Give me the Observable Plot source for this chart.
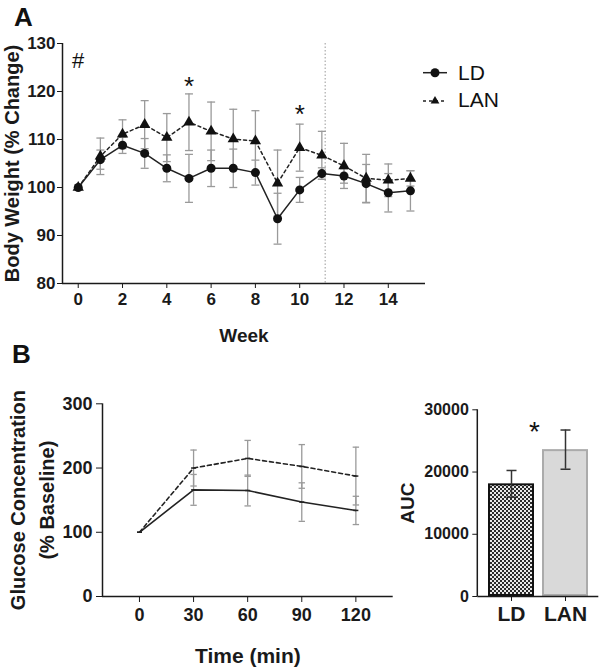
<!DOCTYPE html>
<html><head><meta charset="utf-8">
<script src="https://cdn.jsdelivr.net/npm/d3@7"></script>
<script src="https://cdn.jsdelivr.net/npm/@observablehq/plot@0.6"></script>
<style>
body{margin:0;background:#fff;}
#wrap{position:relative;width:600px;height:670px;font-family:"Liberation Sans",Arial,sans-serif;overflow:hidden;}
.panel{position:absolute;}
.letter{position:absolute;font-weight:bold;font-size:26px;color:#111;line-height:normal;}
</style></head><body>
<div id="wrap">
  <div class="panel" id="pA" style="left:0;top:0;width:600px;height:350px"></div>
  <div class="panel" id="pB1" style="left:0;top:350px;width:400px;height:320px"></div>
  <div class="panel" id="pB2" style="left:400px;top:350px;width:200px;height:320px"></div>
  <div class="letter" style="left:14px;top:2px">A</div>
  <div class="letter" style="left:12px;top:339px">B</div>
  <svg class="panel" style="left:415px;top:55px" width="120" height="60">
    <line x1="8" x2="32" y1="17.7" y2="17.7" stroke="#222" stroke-width="1.5"/>
    <circle cx="20" cy="17.7" r="4.5" fill="#111"/>
    <text x="43" y="25" font-size="21" fill="#111" font-family="Liberation Sans, Arial, sans-serif">LD</text>
    <line x1="8" x2="32" y1="46" y2="46" stroke="#222" stroke-width="1.5" stroke-dasharray="3,3"/>
    <polygon points="20,41 15.6,48.5 24.4,48.5" fill="#111"/>
    <text x="43" y="52" font-size="21" fill="#111" font-family="Liberation Sans, Arial, sans-serif">LAN</text>
  </svg>
</div>
<script>
// ---- Panel A: body weight ----
const weeks = [0,1,2,3,4,5,6,7,8,9,10,11,12,13,14,15];
const ldBW     = [100,105.8,108.8,107.1,104.0,101.9,104.0,104.0,103.1,93.5,99.5,102.9,102.4,100.8,98.9,99.3];
const ldBWErr  = [0,2.0,1.7,3.1,2.8,5.0,3.8,4.0,2.6,5.3,2.6,1.2,1.5,4.0,4.0,4.2];
const lanBW    = [100,106.5,111.1,113.1,110.4,113.6,111.7,110.1,109.7,100.9,108.3,106.7,104.5,101.9,101.5,101.9];
const lanBWErr = [0,3.8,3.0,5.0,5.0,5.9,6.1,6.2,6.3,6.9,4.9,5.0,4.7,5.0,3.4,1.6];
const weekTicks = [0,2,4,6,8,10,12,14];
const bwTicks = [80,90,100,110,120,130];
const dividerWeek = 11.15;
const bwNotes = [{week:0, y:126.3, t:"#", size:22}, {week:5, y:121.1, t:"*", size:26}, {week:10, y:115.1, t:"*", size:26}];

// ---- Panel B left: glucose tolerance ----
const times = [0,30,60,90,120];
const ldGlu     = [100,166,165,147,134];
const ldGluErr  = [0,24,24,30,22];
const lanGlu    = [100,200,215,202.5,187.5];
const lanGluErr = [0,28,28,34,45];
const timeTicks = [0,30,60,90,120];
const gluTicks = [0,100,200,300];

// ---- Panel B right: AUC ----
const groups = ["LD","LAN"];
const auc = [18100,23600];
const aucErr = [2150,3150];
const aucTicks = [0,10000,20000,30000];
const aucStar = {group:"LD", y:26350, t:"*"};

const FONT = "Liberation Sans, Arial, sans-serif";
const INK = "#1a1a1a";
const capSym = {draw(ctx, size){ const r = Math.sqrt(size/Math.PI); ctx.moveTo(-r,0); ctx.lineTo(r,0); }};
const baseStyle = (fs) => ({fontFamily: FONT, fontSize: fs+"px", fontWeight: "bold", color: INK, background: "transparent", overflow: "visible"});
const yLabel = (txt, dx, fs) => Plot.text([txt], {frameAnchor:"left", text:d=>d, rotate:-90, dx, textAnchor:"middle", lineAnchor:"middle", fontSize:fs, fontWeight:"bold", fill:INK});
const xLabel = (txt, dy, fs) => Plot.text([txt], {frameAnchor:"bottom", text:d=>d, dy, textAnchor:"middle", lineAnchor:"middle", fontSize:fs, fontWeight:"bold", fill:INK});

const bwRows = weeks.flatMap((w,i)=>[
  {week:w, g:"LD", v:ldBW[i], e:ldBWErr[i]},
  {week:w, g:"LAN", v:lanBW[i], e:lanBWErr[i]}
]);
const bwErrRows = bwRows.filter(d=>d.e>0);

const xMinA = -0.71;
const A = Plot.plot({
  width: 600, height: 350,
  marginLeft: 62, marginRight: 175, marginTop: 43, marginBottom: 67,
  style: baseStyle(17),
  x: {domain: [xMinA, 15.68], ticks: weekTicks, tickSize: 5, tickPadding: 4, label: null},
  y: {domain: [80,130], ticks: bwTicks, tickSize: 5, tickPadding: 2, label: null},
  marks: [
    Plot.ruleX([dividerWeek], {stroke:"#999", strokeDasharray:"1.5,2", strokeWidth:1}),
    Plot.ruleX(bwErrRows, {x:"week", y1:d=>d.v-d.e, y2:d=>d.v+d.e, stroke:"#9a9a9a", strokeWidth:1.3}),
    Plot.dot(bwErrRows, {x:"week", y:d=>d.v+d.e, symbol:capSym, r:4, stroke:"#9a9a9a", fill:"none", strokeWidth:1.3}),
    Plot.dot(bwErrRows, {x:"week", y:d=>d.v-d.e, symbol:capSym, r:4, stroke:"#9a9a9a", fill:"none", strokeWidth:1.3}),
    Plot.line(bwRows.filter(d=>d.g==="LD"), {x:"week", y:"v", stroke:"#222", strokeWidth:1.5}),
    Plot.line(bwRows.filter(d=>d.g==="LAN"), {x:"week", y:"v", stroke:"#222", strokeWidth:1.5, strokeDasharray:"3,3"}),
    Plot.dot(bwRows.filter(d=>d.g==="LD"), {x:"week", y:"v", r:4.5, fill:"#111", symbol:"circle"}),
    Plot.dot(bwRows.filter(d=>d.g==="LAN"), {x:"week", y:"v", r:4.2, fill:"#111", symbol:"triangle"}),
    Plot.ruleY([80], {stroke:INK, strokeWidth:1.5}),
    Plot.ruleX([xMinA], {stroke:INK, strokeWidth:1.5}),
    Plot.text(bwNotes, {x:"week", y:"y", text:"t", fontSize:d=>d.size, fontWeight:"normal", fill:"#111"}),
    yLabel("Body Weight (% Change)", -50, 20),
    xLabel("Week", 52, 19)
  ]
});
document.getElementById("pA").appendChild(A);

const gluRows = times.flatMap((t,i)=>[
  {t, g:"LD", v:ldGlu[i], e:ldGluErr[i]},
  {t, g:"LAN", v:lanGlu[i], e:lanGluErr[i]}
]);
const gluErrRows = gluRows.filter(d=>d.e>0);
const xMinB = -20.5;
const B1 = Plot.plot({
  width: 400, height: 320,
  marginLeft: 102, marginRight: 7.3, marginTop: 53.3, marginBottom: 74,
  style: baseStyle(18),
  x: {domain: [xMinB, 140.7], ticks: timeTicks, tickSize: 6, tickPadding: 6, label: null},
  y: {domain: [0,300], ticks: gluTicks, tickSize: 6, tickPadding: 4, label: null},
  marks: [
    Plot.ruleX(gluErrRows, {x:"t", y1:d=>d.v-d.e, y2:d=>d.v+d.e, stroke:"#9a9a9a", strokeWidth:1.3}),
    Plot.dot(gluErrRows, {x:"t", y:d=>d.v+d.e, symbol:capSym, r:3.2, stroke:"#9a9a9a", fill:"none", strokeWidth:1.3}),
    Plot.dot(gluErrRows, {x:"t", y:d=>d.v-d.e, symbol:capSym, r:3.2, stroke:"#9a9a9a", fill:"none", strokeWidth:1.3}),
    Plot.line(gluRows.filter(d=>d.g==="LD"), {x:"t", y:"v", stroke:"#222", strokeWidth:1.6}),
    Plot.line(gluRows.filter(d=>d.g==="LAN"), {x:"t", y:"v", stroke:"#222", strokeWidth:1.6, strokeDasharray:"4,3"}),
    Plot.dot(gluRows, {x:"t", y:"v", symbol:capSym, r:2.5, stroke:"#222", fill:"none", strokeWidth:1.5}),
    Plot.ruleY([0], {stroke:INK, strokeWidth:1.5}),
    Plot.ruleX([xMinB], {stroke:INK, strokeWidth:1.5}),
    yLabel("Glucose Concentration", -84, 20),
    yLabel("(% Baseline)", -55, 20),
    xLabel("Time (min)", 60, 21)
  ]
});
document.getElementById("pB1").appendChild(B1);

const aucRows = groups.map((g,i)=>({g, v:auc[i], e:aucErr[i]}));
const B2 = Plot.plot({
  width: 200, height: 320,
  marginLeft: 77.3, marginRight: 1.7, marginTop: 59.3, marginBottom: 74,
  style: baseStyle(16),
  x: {domain: groups, paddingInner: 0.15, paddingOuter: 0.19, tickSize: 5, tickPadding: 5, label: null},
  y: {domain: [0,30000], ticks: aucTicks, tickSize: 5, tickPadding: 4, label: null, tickFormat: d3.format("d")},
  marks: [
    Plot.barY(aucRows.filter(d=>d.g==="LD"), {x:"g", y:"v", fill:"url(#checker)", stroke:"#111", strokeWidth:2, inset:1}),
    Plot.barY(aucRows.filter(d=>d.g==="LAN"), {x:"g", y:"v", fill:"#d9d9d9", stroke:"#ababab", strokeWidth:2, inset:1}),
    Plot.ruleX(aucRows, {x:"g", y1:d=>d.v-d.e, y2:d=>d.v+d.e, stroke:"#333", strokeWidth:1.5}),
    Plot.dot(aucRows, {x:"g", y:d=>d.v+d.e, symbol:capSym, r:5, stroke:"#333", fill:"none", strokeWidth:1.5}),
    Plot.dot(aucRows, {x:"g", y:d=>d.v-d.e, symbol:capSym, r:5, stroke:"#333", fill:"none", strokeWidth:1.5}),
    Plot.ruleY([0], {stroke:INK, strokeWidth:1.5}),
    Plot.text([aucStar], {x:"group", y:"y", text:"t", dx:23, fontSize:28, fontWeight:"normal", fill:"#111"}),
    yLabel("AUC", -70, 19)
  ]
});
const sB2 = d3.select(B2);
sB2.insert("defs", ":first-child").html(
  '<pattern id="checker" width="4" height="4" patternUnits="userSpaceOnUse">' +
  '<rect width="4" height="4" fill="#2a2a2a"/><rect width="2" height="2" fill="#e8e8e8"/><rect x="2" y="2" width="2" height="2" fill="#e8e8e8"/></pattern>');
sB2.selectAll('[aria-label^="x-axis"] text').style("font-size","21px");
// y-axis line along the left edge of the frame
sB2.append("line").attr("x1",77.3).attr("x2",77.3).attr("y1",59.3).attr("y2",246)
  .attr("stroke",INK).attr("stroke-width",1.5);
document.getElementById("pB2").appendChild(B2);
</script>
</body></html>
